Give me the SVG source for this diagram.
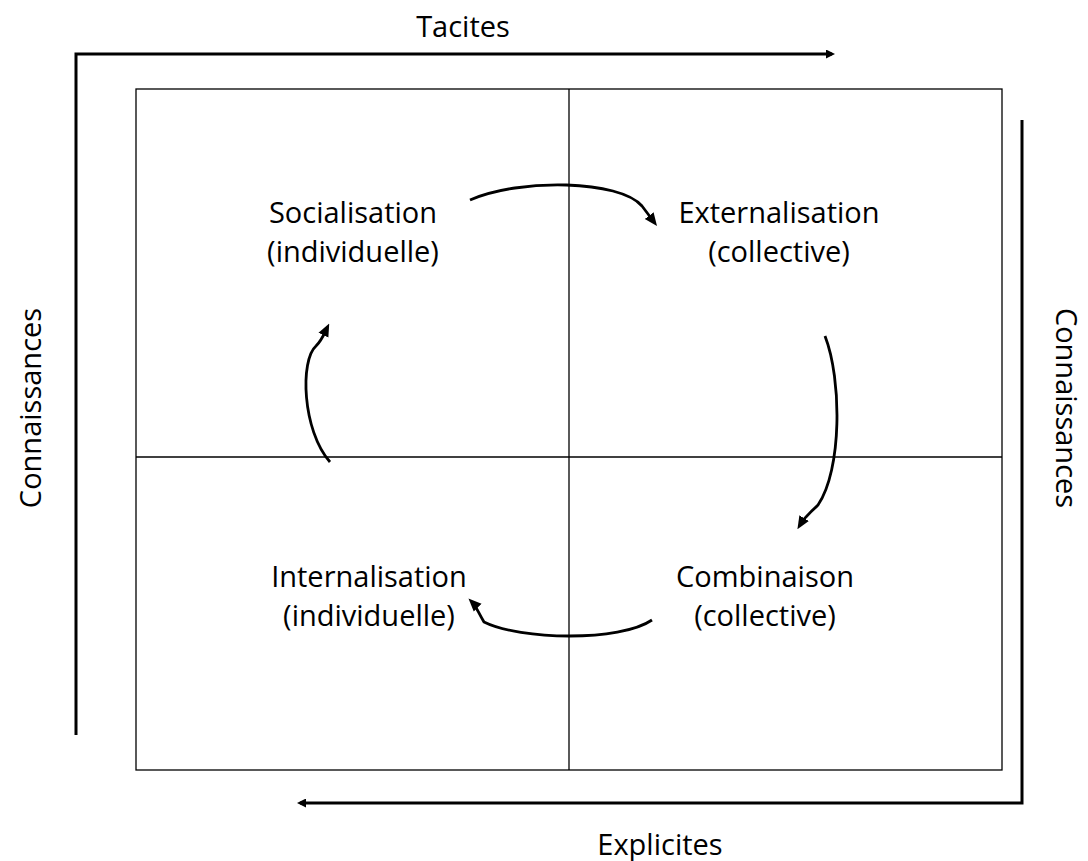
<svg xmlns="http://www.w3.org/2000/svg" width="1088" height="861" viewBox="0 0 1088 861">
<style>
.t{font-family:"Open Sans",Lato,"Liberation Sans",sans-serif;font-size:29px;fill:#000;text-anchor:middle}
.grid{fill:none;stroke:#000;stroke-width:1.3}
.axis{fill:none;stroke:#000;stroke-width:3}
.cyc{fill:none;stroke:#000;stroke-width:2.8}
</style>
<defs>
<marker id="ah" markerWidth="9" markerHeight="9" refX="6" refY="4.5" orient="auto" markerUnits="userSpaceOnUse" viewBox="0 0 9 9">
<path d="M0,0 L9,4.5 L0,9 z" fill="#000"/>
</marker>
<marker id="ah2" markerWidth="13" markerHeight="13" refX="8" refY="6.5" orient="auto" markerUnits="userSpaceOnUse" viewBox="0 0 13 13">
<path d="M0,1 L13,6.5 L0,12 z" fill="#000"/>
</marker>
</defs>
<rect width="1088" height="861" fill="#fff"/>
<g id="grid">
<rect class="grid" x="136" y="89" width="866" height="681"/>
<line class="grid" x1="569" y1="89" x2="569" y2="770"/>
<line class="grid" x1="136" y1="457" x2="1002" y2="457"/>
</g>
<g id="connectors">
<path class="axis" d="M76,735 L76,54 L832,54" marker-end="url(#ah)"/>
<path class="axis" d="M1022,120 L1022,803 L300,803" marker-end="url(#ah)"/>
<path class="cyc" d="M470,200 C520,178 620,180 642,206 L654,222" marker-end="url(#ah2)"/>
<path class="cyc" d="M825,336 C842,380 842,470 818,505 C808,515 806,515 800,525" marker-end="url(#ah2)"/>
<path class="cyc" d="M652,620 C620,642 520,640 484,622 C478,612 476,606 472,602" marker-end="url(#ah2)"/>
<path class="cyc" d="M330,462 C302,430 300,360 316,346 C322,340 324,334 327,328" marker-end="url(#ah2)"/>
</g>
<g id="tacites"><text class="t" x="463" y="37">Tacites</text></g>
<g id="explicites"><text class="t" x="660" y="855">Explicites</text></g>
<g id="conn-left"><text class="t" transform="translate(41,408) rotate(-90)">Connaissances</text></g>
<g id="conn-right"><text class="t" transform="translate(1056,408) rotate(90)">Connaissances</text></g>
<g id="socialisation"><text class="t" x="353" y="223">Socialisation</text><text class="t" x="353" y="262">(individuelle)</text></g>
<g id="externalisation"><text class="t" x="779" y="223">Externalisation</text><text class="t" x="779" y="262">(collective)</text></g>
<g id="internalisation"><text class="t" x="369" y="587">Internalisation</text><text class="t" x="369" y="626">(individuelle)</text></g>
<g id="combinaison"><text class="t" x="765" y="587">Combinaison</text><text class="t" x="765" y="626">(collective)</text></g>
</svg>
